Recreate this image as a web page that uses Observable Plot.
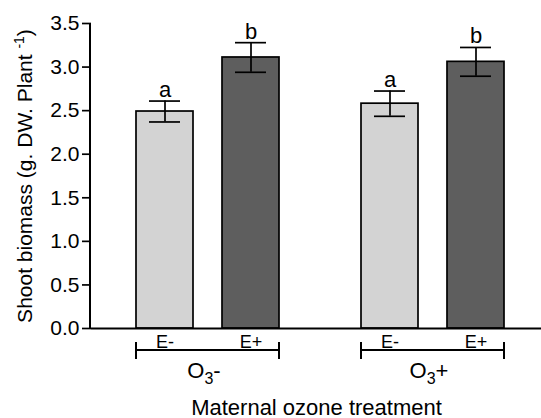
<!DOCTYPE html>
<html><head><meta charset="utf-8">
<script src="https://cdn.jsdelivr.net/npm/d3@7"></script>
<script src="https://cdn.jsdelivr.net/npm/@observablehq/plot@0.6"></script>
<style>body{margin:0;background:#fff} svg{display:block}</style>
</head><body><div id="chart"></div>
<script>
const groups = ["O₃-", "O₃+"];
const endophyte = ["E-", "E+"];
const groupOf = ["O₃-", "O₃-", "O₃+", "O₃+"];
const endoOf = ["E-", "E+", "E-", "E+"];
const means = [2.49, 3.11, 2.58, 3.06];
const errors = [0.12, 0.17, 0.145, 0.165];
const letters = ["a", "b", "a", "b"];
const yTicks = [0, 0.5, 1, 1.5, 2, 2.5, 3, 3.5];
const barColors = ["#d3d3d3", "#5e5e5e"];

const rows = means.map((m, i) => ({group: groupOf[i], endo: endoOf[i], mean: m, lo: m - errors[i], hi: m + errors[i], letter: letters[i]}));

const font = "'Liberation Sans', Arial, sans-serif";
const plot = Plot.plot({
  width: 541, height: 418,
  marginLeft: 90, marginRight: 0, marginTop: 23, marginBottom: 90,
  style: {fontFamily: font, background: "#fff", color: "#000"},
  fx: {domain: groups, padding: 0},
  x: {domain: endophyte, paddingInner: 0.341, paddingOuter: 0.474, align: 0.544},
  y: {domain: [0, 3.5]},
  color: {domain: endophyte, range: barColors},
  marks: [
    Plot.barY(rows, {fx: "group", x: "endo", y: "mean", fill: "endo", stroke: "#000", strokeWidth: 1.7}),
    Plot.ruleX(rows, {fx: "group", x: "endo", y1: "lo", y2: "hi", stroke: "#000", strokeWidth: 1.7}),
    Plot.tickY(rows, {fx: "group", x: "endo", y: "hi", insetLeft: 13, insetRight: 13, stroke: "#000", strokeWidth: 1.7}),
    Plot.tickY(rows, {fx: "group", x: "endo", y: "lo", insetLeft: 13, insetRight: 13, stroke: "#000", strokeWidth: 1.7}),
    Plot.text(rows, {fx: "group", x: "endo", y: "hi", text: "letter", lineAnchor: "bottom", dy: -4, fontSize: 22, fill: "#000"}),
    Plot.ruleY([0], {stroke: "#000", strokeWidth: 2}),
    Plot.axisY({ticks: yTicks, tickFormat: d3.format(".1f"), tickSize: 9, tickPadding: 3, fontSize: 21, strokeWidth: 1.7,
      label: "Shoot biomass (g. DW. Plant -1)", labelArrow: "none", labelAnchor: "center", labelOffset: 74}),
    Plot.axisX({tickSize: 0, tickPadding: 7, fontSize: 18, label: null}),
    Plot.axisFx({anchor: "bottom", tickSize: 0, tickPadding: 34, fontSize: 22,
      label: "Maternal ozone treatment", labelArrow: "none", labelAnchor: "center", labelOffset: 86})
  ]
});
document.getElementById("chart").appendChild(plot);

// decorations computed from rendered bars and scales
const ns = "http://www.w3.org/2000/svg";
function line(parent, x1, y1, x2, y2, w) {
  const l = document.createElementNS(ns, "line");
  l.setAttribute("x1", x1); l.setAttribute("y1", y1);
  l.setAttribute("x2", x2); l.setAttribute("y2", y2);
  l.setAttribute("stroke", "#000"); l.setAttribute("stroke-width", w);
  parent.appendChild(l);
}
const byParent = new Map();
plot.querySelectorAll('g[aria-label="bar"] rect').forEach(r => {
  const p = r.parentNode;
  if (!byParent.has(p)) byParent.set(p, []);
  byParent.get(p).push(r);
});
for (const [p, rects] of byParent) {
  const xs0 = rects.map(r => +r.getAttribute("x"));
  const xs1 = rects.map(r => +r.getAttribute("x") + +r.getAttribute("width"));
  const yb = Math.max(...rects.map(r => +r.getAttribute("y") + +r.getAttribute("height")));
  const a = Math.min(...xs0), b = Math.max(...xs1), yy = yb + 22;
  line(p, a, yy, b, yy, 2);
  line(p, a, yy - 8, a, yy + 9, 2);
  line(p, b, yy - 8, b, yy + 9, 2);
}
const ys = plot.scale("y");
line(plot, 90, ys.apply(0), 90, ys.apply(3.5), 2);

// rich text: subscript 3 and superscript -1
function tspan(parent, txt, attrs) {
  const t = document.createElementNS(ns, "tspan");
  for (const k in attrs) t.setAttribute(k, attrs[k]);
  t.textContent = txt;
  parent.appendChild(t);
}
plot.querySelectorAll("text").forEach(t => {
  const s = t.textContent;
  if (s.includes("₃")) {
    const [pre, post] = s.split("₃");
    t.textContent = "";
    tspan(t, pre, {});
    tspan(t, "3", {"font-size": "16", dy: "6"});
    tspan(t, post, {dy: "-6"});
  } else if (s.startsWith("Shoot")) {
    t.textContent = "";
    tspan(t, "Shoot biomass (g. DW. Plant ", {});
    tspan(t, "-1", {"font-size": "14", dy: "-8"});
    tspan(t, ")", {dy: "8"});
  }
});
</script></body></html>
